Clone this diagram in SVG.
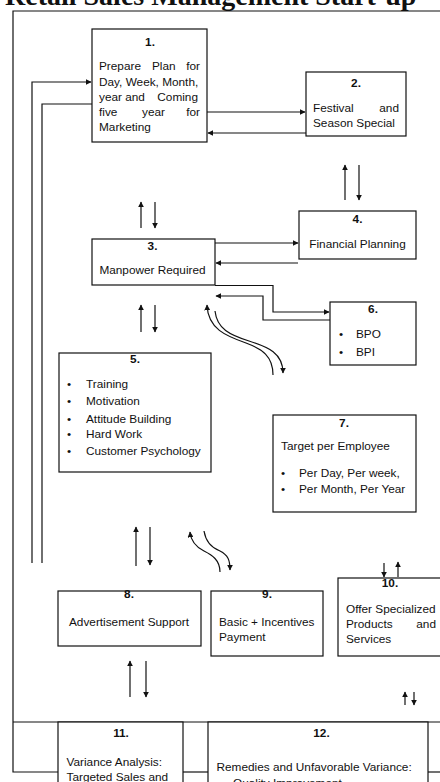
<svg xmlns="http://www.w3.org/2000/svg" width="440" height="782" viewBox="0 0 440 782">
<style>
.box{fill:#fff;stroke:#111;stroke-width:1.2}
.ln{fill:none;stroke:#111;stroke-width:1.2}
.t{font-family:"Liberation Sans",Arial,sans-serif;font-size:11.8px;fill:#111}
.b{font-weight:bold}
.m{text-anchor:middle}
.e{text-anchor:end}
.title{font-family:"Liberation Serif","Times New Roman",serif;font-weight:bold;font-size:28px;fill:#111}
</style>
<defs>
<marker id="ah" viewBox="0 0 10 10" refX="9" refY="5" markerWidth="6" markerHeight="6" markerUnits="userSpaceOnUse" orient="auto">
<path d="M0,0 L10,5 L0,10 z" fill="#111"/>
</marker>
</defs>
<rect width="440" height="782" fill="#fff"/>
<text class="title" x="5" y="5">Retail Sales Management Start-up</text>

<g id="frame" class="ln">
<path d="M13,722 V11 H440"/>
<path d="M13,722 H440"/>
<path d="M13,722 V772 H58"/>
<path d="M183,772 H208"/>
<path d="M428,772 H440"/>
</g>

<g id="connectors" class="ln">
<path d="M32,563 V82 H91" marker-end="url(#ah)"/>
<path d="M42,563 V104 H92"/>
<path d="M207,112 H305" marker-end="url(#ah)"/>
<path d="M306,133 H208" marker-end="url(#ah)"/>
<path d="M345,200 V165" marker-end="url(#ah)"/>
<path d="M359,165 V200" marker-end="url(#ah)"/>
<path d="M141,228 V202" marker-end="url(#ah)"/>
<path d="M155,202 V228" marker-end="url(#ah)"/>
<path d="M215,243 H298" marker-end="url(#ah)"/>
<path d="M298,263 H216" marker-end="url(#ah)"/>
<path d="M215,285.5 H273 V312 H329" marker-end="url(#ah)"/>
<path d="M330,320 H263 V296 H216" marker-end="url(#ah)"/>
<path d="M141,332 V305" marker-end="url(#ah)"/>
<path d="M155,305 V332" marker-end="url(#ah)"/>
<path d="M273,375 C273,356 262,349 246,343 C226,336 208,329 207,305" marker-end="url(#ah)"/>
<path d="M215,311 C217,329 230,335 249,341 C268,347 283,353 283,373" marker-end="url(#ah)"/>
<path d="M136,566 V527" marker-end="url(#ah)"/>
<path d="M150,527 V565" marker-end="url(#ah)"/>
<path d="M220,572 C220,560 212,555 204,551 C196,547 191,542 190,532" marker-end="url(#ah)"/>
<path d="M204,531 C206,543 212,548 220,551 C228,555 230,560 230,570" marker-end="url(#ah)"/>
<path d="M384,563 V577" marker-end="url(#ah)"/>
<path d="M398,577 V562" marker-end="url(#ah)"/>
<path d="M130,697 V661" marker-end="url(#ah)"/>
<path d="M146,661 V697" marker-end="url(#ah)"/>
<path d="M405,705 V692" marker-end="url(#ah)"/>
<path d="M414,692 V705" marker-end="url(#ah)"/>
</g>

<g id="node1">
<rect class="box" x="92" y="29" width="115" height="113"/>
<text class="t b m" x="150" y="46">1.</text>
<text class="t" x="99" y="70">Prepare</text>
<text class="t" x="152" y="70">Plan</text>
<text class="t e" x="200" y="70">for</text>
<text class="t" x="99" y="85.5">Day, Week, Month,</text>
<text class="t" x="99" y="100.5">year and</text>
<text class="t e" x="198" y="100.5">Coming</text>
<text class="t" x="99" y="115.5">five</text>
<text class="t" x="142" y="115.5">year</text>
<text class="t e" x="200" y="115.5">for</text>
<text class="t" x="99" y="130.5">Marketing</text>
</g>

<g id="node2">
<rect class="box" x="306" y="72" width="100" height="64"/>
<text class="t b m" x="356" y="87">2.</text>
<text class="t" x="313" y="112">Festival</text>
<text class="t e" x="399" y="112">and</text>
<text class="t" x="313" y="127">Season Special</text>
</g>

<g id="node3">
<rect class="box" x="92" y="239" width="123" height="46"/>
<text class="t b m" x="152.5" y="250">3.</text>
<text class="t m" x="152.5" y="274">Manpower Required</text>
</g>

<g id="node4">
<rect class="box" x="299" y="211" width="117" height="48"/>
<text class="t b m" x="357.5" y="223">4.</text>
<text class="t m" x="357.5" y="248">Financial Planning</text>
</g>

<g id="node5">
<rect class="box" x="59" y="353" width="152" height="119"/>
<text class="t b m" x="135" y="363">5.</text>
<text class="t" x="67" y="388">•</text><text class="t" x="86" y="388">Training</text>
<text class="t" x="67" y="405">•</text><text class="t" x="86" y="405">Motivation</text>
<text class="t" x="67" y="423">•</text><text class="t" x="86" y="423">Attitude Building</text>
<text class="t" x="67" y="438">•</text><text class="t" x="86" y="438">Hard Work</text>
<text class="t" x="67" y="454.5">•</text><text class="t" x="86" y="454.5">Customer Psychology</text>
</g>

<g id="node6">
<rect class="box" x="330" y="302" width="86" height="63"/>
<text class="t b m" x="373" y="313">6.</text>
<text class="t" x="339" y="338">•</text><text class="t" x="356" y="338">BPO</text>
<text class="t" x="339" y="356">•</text><text class="t" x="356" y="356">BPI</text>
</g>

<g id="node7">
<rect class="box" x="273" y="415" width="143" height="97"/>
<text class="t b m" x="344" y="426.5">7.</text>
<text class="t" x="281" y="449.5">Target per Employee</text>
<text class="t" x="281" y="477">•</text><text class="t" x="299" y="477">Per Day, Per week,</text>
<text class="t" x="281" y="493">•</text><text class="t" x="299" y="493">Per Month, Per Year</text>
</g>

<g id="node8">
<rect class="box" x="58" y="591" width="143" height="55"/>
<text class="t b m" x="129" y="598">8.</text>
<text class="t m" x="129" y="626">Advertisement Support</text>
</g>

<g id="node9">
<rect class="box" x="211" y="591" width="112" height="65"/>
<text class="t b m" x="267" y="598">9.</text>
<text class="t" x="219" y="626">Basic + Incentives</text>
<text class="t" x="219" y="641">Payment</text>
</g>

<g id="node10">
<rect class="box" x="338" y="578" width="110" height="78"/>
<text class="t b m" x="390" y="587">10.</text>
<text class="t" x="346" y="613">Offer Specialized</text>
<text class="t" x="346" y="628">Products</text>
<text class="t e" x="436" y="628">and</text>
<text class="t" x="346" y="643">Services</text>
</g>

<g id="node11">
<rect class="box" x="58" y="722" width="125" height="70"/>
<text class="t b m" x="121" y="737">11.</text>
<text class="t" x="66.5" y="766">Variance Analysis:</text>
<text class="t" x="66.5" y="781">Targeted Sales and</text>
</g>

<g id="node12">
<rect class="box" x="208" y="722" width="220" height="70"/>
<text class="t b m" x="321.5" y="737">12.</text>
<text class="t" x="216.5" y="771">Remedies and Unfavorable Variance:</text>
<text class="t" x="216" y="786.5">•</text><text class="t" x="233" y="786.5">Quality Improvement</text>
</g>
</svg>
